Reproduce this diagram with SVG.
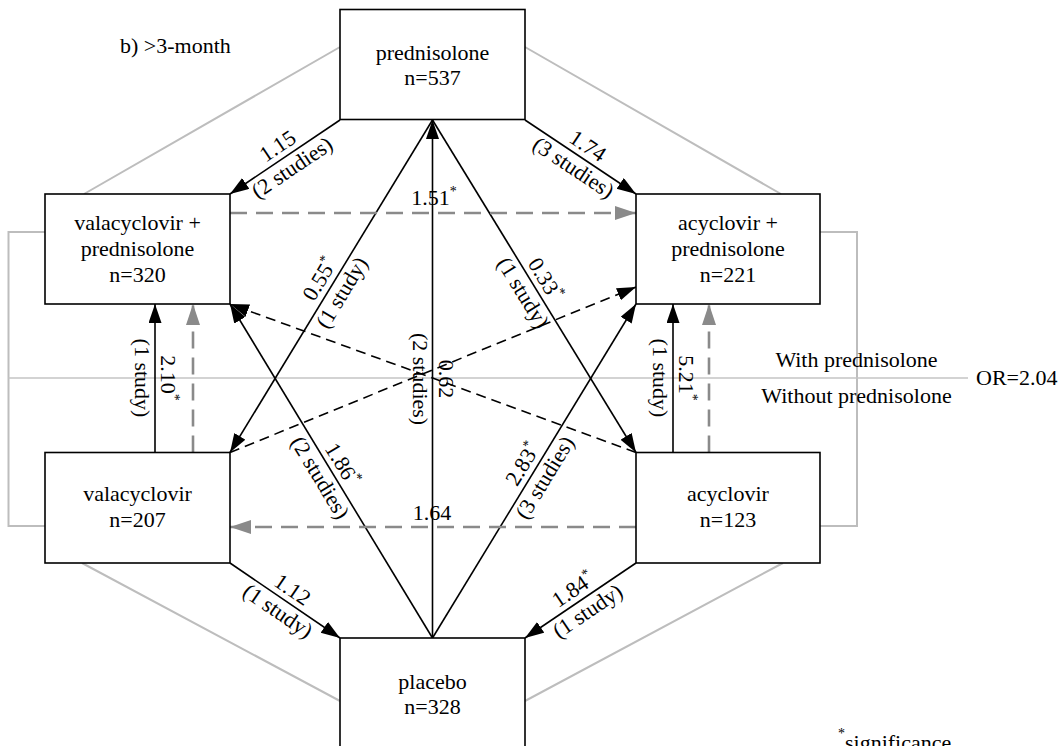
<svg xmlns="http://www.w3.org/2000/svg" width="1059" height="746" viewBox="0 0 1059 746">
<style>
text{font-family:"Liberation Serif","Times New Roman",serif;font-size:22px;fill:#000}
.t{text-anchor:middle}
.box{fill:#fff;stroke:#000;stroke-width:1.6}
.frame{fill:none;stroke:#bdbdbd;stroke-width:2}
.mid{fill:none;stroke:#c4c4c4;stroke-width:1.5}
.s{fill:none;stroke:#000;stroke-width:1.6;marker-end:url(#ab)}
.d{fill:none;stroke:#000;stroke-width:1.6;stroke-dasharray:10 6;marker-end:url(#ab)}
.g{fill:none;stroke:#8a8a8a;stroke-width:2.6;stroke-dasharray:17 9;marker-end:url(#ag)}
.sup{font-size:14px}
</style>
<defs>
<marker id="ab" markerUnits="userSpaceOnUse" markerWidth="20" markerHeight="14" refX="19" refY="6.5" orient="auto"><path d="M0,0 L19,6.5 L0,13 z" fill="#000"/></marker>
<marker id="ag" markerUnits="userSpaceOnUse" markerWidth="22" markerHeight="15" refX="21" refY="7" orient="auto"><path d="M0,0 L21,7 L0,14 z" fill="#8a8a8a"/></marker>
</defs>
<rect width="1059" height="746" fill="#fff"/>
<g id="frame">
<path class="frame" d="M340,47 L84,194 M525,47 L781,194 M82,563 L340,701 M783,563 L525,701"/>
<path class="frame" d="M45,232 H8.5 V526 H45 M820,232 H857 V526 H820"/>
<path class="mid" d="M8.5,378 H968"/>
</g>
<text x="120" y="53">b) &gt;3-month</text>
<text class="t" x="856.5" y="367">With prednisolone</text>
<text class="t" x="856.5" y="403">Without prednisolone</text>
<text x="976" y="385">OR=2.04</text>
<text x="838" y="750"><tspan class="sup" dy="-12">*</tspan><tspan dy="12">significance</tspan></text>
<g id="connectors">
<path class="s" d="M340,120 L230,194"/>
<path class="s" d="M525,120 L636,194"/>
<path class="s" d="M230,563 L340,638"/>
<path class="s" d="M636,563 L525,638"/>
<path class="s" d="M432.5,120 L230,452.5"/>
<path class="s" d="M432.5,120 L636,452.5"/>
<path class="s" d="M432.5,638 L230,304"/>
<path class="s" d="M432.5,638 L636,304"/>
<path class="s" d="M432.5,638 L432.5,120"/>
<path class="d" d="M230,452.5 L636,287"/>
<path class="d" d="M636,452.5 L230,304"/>
<path class="g" d="M230,213 L636,213"/>
<path class="g" d="M636,527 L230,527"/>
<path class="s" d="M155,452.5 L155,304"/>
<path class="g" d="M193,452.5 L193,304"/>
<path class="s" d="M673,452.5 L673,304"/>
<path class="g" d="M709,452.5 L709,304"/>
<g transform="translate(285,157) rotate(-33.9)"><text class="t" y="-6">1.15</text><text class="t" y="20">(2 studies)</text></g>
<g transform="translate(580.5,157) rotate(33.7)"><text class="t" y="-6">1.74</text><text class="t" y="20">(3 studies)</text></g>
<g transform="translate(285,600.5) rotate(34.3)"><text class="t" y="-6">1.12</text><text class="t" y="20">(1 study)</text></g>
<g transform="translate(580.5,600.5) rotate(-34)"><text class="t" y="-6">1.84<tspan class="sup" dy="-9">*</tspan></text><text class="t" y="20">(1 study)</text></g>
<g transform="translate(331,286) rotate(-58.7)"><text class="t" y="-6">0.55<tspan class="sup" dy="-9">*</tspan></text><text class="t" y="20">(1 study)</text></g>
<g transform="translate(534,286) rotate(58.4)"><text class="t" y="-6">0.33<tspan class="sup" dy="-9">*</tspan></text><text class="t" y="20">(1 study)</text></g>
<g transform="translate(331,471) rotate(58.8)"><text class="t" y="-6">1.86<tspan class="sup" dy="-9">*</tspan></text><text class="t" y="20">(2 studies)</text></g>
<g transform="translate(534,471) rotate(-58.6)"><text class="t" y="-6">2.83<tspan class="sup" dy="-9">*</tspan></text><text class="t" y="20">(3 studies)</text></g>
<g transform="translate(432.5,379) rotate(90)"><text class="t" y="-6">0.62</text><text class="t" y="20">(2 studies)</text></g>
<g transform="translate(155,378) rotate(90)"><text class="t" y="-6">2.10<tspan class="sup" dy="-9">*</tspan></text><text class="t" y="20">(1 study)</text></g>
<g transform="translate(673,378) rotate(90)"><text class="t" y="-6">5.21<tspan class="sup" dy="-9">*</tspan></text><text class="t" y="20">(1 study)</text></g>
<text class="t" x="434" y="205">1.51<tspan class="sup" dy="-9">*</tspan></text>
<text class="t" x="432" y="520">1.64</text>
</g>
<g id="n-prednisolone"><rect class="box" x="340" y="9.5" width="185" height="110"/><text class="t" x="432.5" y="60">prednisolone</text><text class="t" x="432.5" y="85">n=537</text></g>
<g id="n-valacyclovir-prednisolone"><rect class="box" x="45" y="194" width="185" height="110"/><text class="t" x="137.5" y="230">valacyclovir +</text><text class="t" x="137.5" y="256">prednisolone</text><text class="t" x="137.5" y="282">n=320</text></g>
<g id="n-acyclovir-prednisolone"><rect class="box" x="636" y="194" width="184" height="110"/><text class="t" x="728" y="230">acyclovir +</text><text class="t" x="728" y="256">prednisolone</text><text class="t" x="728" y="282">n=221</text></g>
<g id="n-valacyclovir"><rect class="box" x="45" y="452.5" width="185" height="110.5"/><text class="t" x="137.5" y="501">valacyclovir</text><text class="t" x="137.5" y="527">n=207</text></g>
<g id="n-acyclovir"><rect class="box" x="636" y="452.5" width="184" height="110.5"/><text class="t" x="728" y="501">acyclovir</text><text class="t" x="728" y="527">n=123</text></g>
<g id="n-placebo"><rect class="box" x="340" y="638" width="185" height="112"/><text class="t" x="432.5" y="688.5">placebo</text><text class="t" x="432.5" y="713.5">n=328</text></g>
</svg>
